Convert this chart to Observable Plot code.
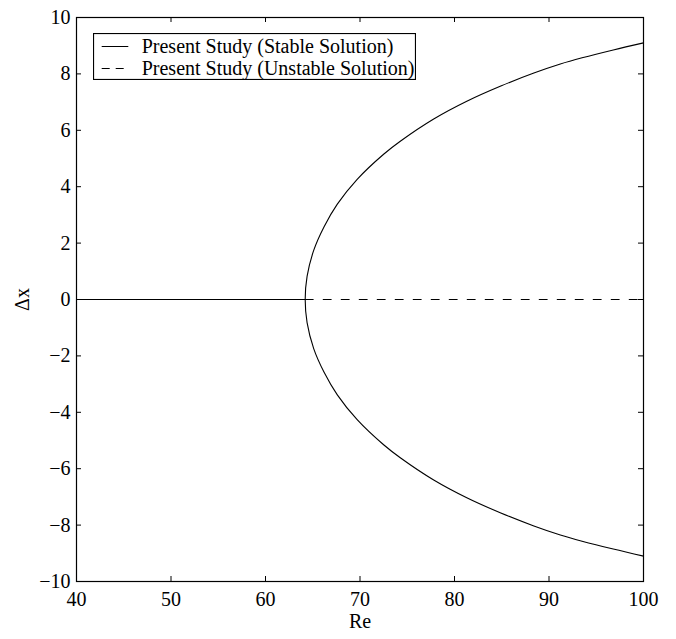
<!DOCTYPE html>
<html>
<head>
<meta charset="utf-8">
<script src="https://cdn.jsdelivr.net/npm/d3@7"></script>
<script src="https://cdn.jsdelivr.net/npm/@observablehq/plot@0.6"></script>
<style>
  body { margin: 0; background: #fff; }
  #wrap { position: relative; width: 676px; height: 639px; font-family: "Liberation Serif", "Times New Roman", serif; }
  #legend { position: absolute; left: 93px; top: 33px; }
</style>
</head>
<body>
<div id="wrap"></div>
<script>
// ---- data ----
const xTicks = [40, 50, 60, 70, 80, 90, 100];
const yTicks = [-10, -8, -6, -4, -2, 0, 2, 4, 6, 8, 10];

// zero branch
const stableRe = [40, 64.2];
const stableDx = [0, 0];
const unstableRe = [64.2, 100];
const unstableDx = [0, 0];

// bifurcated branches (stable)
const upperRe = [64.2, 64.4, 65.1, 66.2, 67.6, 69.7, 72.5, 74.3, 77.8, 81.3, 84.9, 88.4, 91.2, 93.5, 96.8, 100];
const upperDx = [0, 0.82, 1.74, 2.58, 3.38, 4.26, 5.15, 5.62, 6.40, 7.03, 7.57, 8.03, 8.35, 8.57, 8.85, 9.1];
const lowerRe = [64.2, 64.4, 65.1, 66.2, 67.6, 69.7, 72.5, 74.3, 77.8, 81.3, 84.9, 88.4, 91.2, 93.5, 96.8, 100];
const lowerDx = [0, -0.82, -1.74, -2.58, -3.38, -4.26, -5.15, -5.62, -6.40, -7.03, -7.57, -8.03, -8.35, -8.57, -8.85, -9.1];

const legendLabels = ["Present Study (Stable Solution)", "Present Study (Unstable Solution)"];

// ---- tables ----
const stable = stableRe.map((re, i) => ({re, dx: stableDx[i]}));
const unstable = unstableRe.map((re, i) => ({re, dx: unstableDx[i]}));
const branch = [
  ...lowerRe.map((re, i) => ({re, dx: lowerDx[i]})).reverse(),
  ...upperRe.map((re, i) => ({re, dx: upperDx[i]})).slice(1)
];

const W = 676, H = 639, mL = 76, mR = 33, mT = 17, mB = 58;
const innerW = W - mL - mR, innerH = H - mT - mB;
const tk = 5;
const font = '"Liberation Serif", "Times New Roman", serif';

const chart = Plot.plot({
  width: W, height: H,
  marginLeft: mL, marginRight: mR, marginTop: mT, marginBottom: mB,
  style: {fontFamily: font, fontSize: "20px", color: "#000", background: "#fff"},
  x: {domain: [40, 100]},
  y: {domain: [-10, 10]},
  marks: [
    Plot.line(stable, {x: "re", y: "dx", stroke: "#000", strokeWidth: 1}),
    Plot.line(unstable, {x: "re", y: "dx", stroke: "#000", strokeWidth: 1, strokeDasharray: "8,10"}),
    Plot.line(branch, {x: "re", y: "dx", stroke: "#000", strokeWidth: 1.1, curve: "catmull-rom"}),
    Plot.tickX(xTicks, {x: d => d, insetTop: innerH - tk, stroke: "#000"}),
    Plot.tickX(xTicks, {x: d => d, insetBottom: innerH - tk, stroke: "#000"}),
    Plot.tickY(yTicks, {y: d => d, insetRight: innerW - tk, stroke: "#000"}),
    Plot.tickY(yTicks, {y: d => d, insetLeft: innerW - tk, stroke: "#000"}),
    Plot.frame({stroke: "#000", strokeWidth: 1.2}),
    Plot.axisX(xTicks, {tickSize: 0, tickPadding: 10, fontSize: 20, label: "Re", labelAnchor: "center", labelOffset: 46, labelArrow: "none"}),
    Plot.axisY(yTicks, {tickSize: 0, tickPadding: 6, fontSize: 20, label: "Δx", labelAnchor: "center", labelOffset: 62, labelArrow: "none"})
  ]
});

const wrap = document.getElementById("wrap");
wrap.appendChild(chart);

// legend inside the plot area
const lg = document.createElement("div");
lg.id = "legend";
const ns = "http://www.w3.org/2000/svg";
const svg = document.createElementNS(ns, "svg");
svg.setAttribute("width", 323);
svg.setAttribute("height", 47);
svg.innerHTML = `<rect x="0.5" y="0.5" width="322" height="46" fill="#fff" stroke="#000" stroke-width="1.2"/>`;
const dashes = [null, "8,6"];
legendLabels.forEach((lab, i) => {
  const cy = i === 0 ? 13.5 : 35.5;
  const line = document.createElementNS(ns, "line");
  line.setAttribute("x1", 8.7); line.setAttribute("x2", 35.3);
  line.setAttribute("y1", cy); line.setAttribute("y2", cy);
  line.setAttribute("stroke", "#000"); line.setAttribute("stroke-width", 1);
  if (dashes[i]) line.setAttribute("stroke-dasharray", dashes[i]);
  svg.appendChild(line);
  const t = document.createElementNS(ns, "text");
  t.setAttribute("x", 48.7); t.setAttribute("y", cy);
  t.setAttribute("dy", "0.33em");
  t.setAttribute("font-family", font);
  t.setAttribute("font-size", 20);
  t.setAttribute("fill", "#000");
  t.textContent = lab;
  svg.appendChild(t);
});
lg.appendChild(svg);
wrap.appendChild(lg);
</script>
</body>
</html>
